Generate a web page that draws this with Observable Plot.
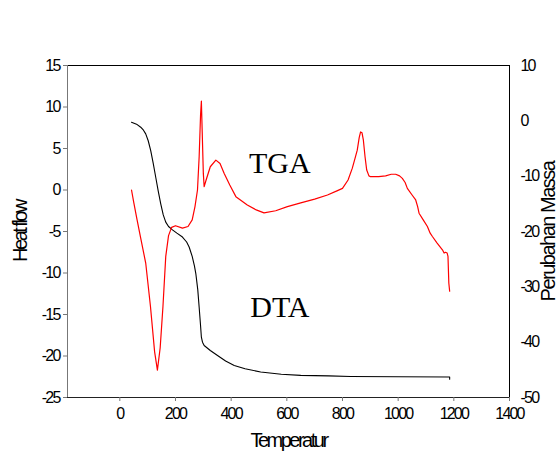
<!DOCTYPE html>
<html>
<head>
<meta charset="utf-8">
<script src="https://cdn.jsdelivr.net/npm/d3@7"></script>
<script src="https://cdn.jsdelivr.net/npm/@observablehq/plot@0.6"></script>
<style>
  html, body { margin: 0; padding: 0; background: #fff; }
  #chart svg { display: block; }
  g[aria-label="y-axis tick label"] text, g[aria-label="x-axis tick label"] text { letter-spacing: -1.8px; }
  .lbl text { letter-spacing: -2.5px; }
  .lbl2 text { letter-spacing: -1.5px; }
</style>
</head>
<body>
<div id="chart"></div>
<script>
// Heat flow (red, left axis)
const redTemp = [42,50,62,75,93,110,125,135,145,155,165,175,186,200,225,245,260,270,279,285,290,293,296,300,303,310,325,345,360,375,395,417,458,490,518,560,602,650,700,746,780,800,820,835,845,853,860,865,870,875,881,887,895,901,930,955,975,991,1005,1015,1025,1033,1050,1063,1070,1075,1090,1105,1115,1123,1140,1159,1165,1170,1176,1179,1182,1185];
const redHeat = [0.0,-1.5,-3.6,-5.8,-8.8,-14,-19.5,-21.7,-19,-14,-8,-5.5,-4.5,-4.3,-4.6,-4.4,-3.6,-2,0,4,9,10.7,7,2,0.4,1.2,2.8,3.6,3.2,2.0,0.6,-0.8,-1.8,-2.4,-2.75,-2.5,-2.0,-1.55,-1.1,-0.6,-0.1,0.2,1.2,2.6,3.8,4.8,6.3,7.0,6.9,6.0,4.0,2.4,1.7,1.6,1.6,1.7,1.9,1.9,1.7,1.4,0.9,0.2,-0.6,-1.2,-2.0,-2.8,-3.6,-4.4,-5.2,-5.6,-6.4,-7.2,-7.6,-7.5,-7.6,-8.0,-11.2,-12.2];
// Mass change (black, right axis)
const blackTemp = [42,60,75,85,93,102,111,120,129,138,147,156,165,175,189,205,225,240,249,260,268,273,280,285,290,293,297,303,325,351,380,411,450,506,580,650,750,829,1000,1185,1185];
const blackMass = [-0.25,-0.6,-1.15,-1.7,-2.35,-3.6,-5.4,-7.7,-10.2,-12.7,-15,-17,-18.3,-19.1,-19.7,-20.3,-21.0,-21.9,-22.8,-24.5,-26.2,-27.6,-30.5,-33.7,-37,-39.1,-40.0,-40.6,-41.5,-42.4,-43.4,-44.2,-44.8,-45.4,-45.8,-46.0,-46.1,-46.2,-46.25,-46.3,-46.7];

const xTicks = [0,200,400,600,800,1000,1200,1400];
const leftTicks = [15,10,5,0,-5,-10,-15,-20,-25];
const rightTicks = [10,0,-10,-20,-30,-40,-50];
const labels = ["TGA","DTA"];
const labelTemp = [575,575];
const labelHeat = [3.2,-14.2];

const xDomain = [-188,1400];
const leftDomain = [-25,15];
const rightDomain = [-50,10];
// map right-axis value to left-axis units
const toLeft = m => leftDomain[0] + (m - rightDomain[0]) * (leftDomain[1]-leftDomain[0])/(rightDomain[1]-rightDomain[0]);

const red = redTemp.map((t,i)=>({t, v: redHeat[i]}));
const black = blackTemp.map((t,i)=>({t, v: toLeft(blackMass[i])}));
const notes = labels.map((s,i)=>({s, t: labelTemp[i], v: labelHeat[i]}));
const rMap = new Map(rightTicks.map(m => [toLeft(m), m]));
const fmt = d => String(d);

const chart = Plot.plot({
  width: 559, height: 452,
  marginLeft: 67, marginRight: 50, marginTop: 65, marginBottom: 55,
  x: {domain: xDomain},
  y: {domain: leftDomain},
  style: {fontFamily: "'Liberation Sans', Arial, sans-serif", background: "#fff", color: "#000"},
  marks: [
    Plot.ruleY([leftDomain[1]], {stroke: "#000", strokeWidth: 1}),
    Plot.ruleX([xDomain[1]], {stroke: "#000", strokeWidth: 1, y1: leftDomain[0] - 0.2, y2: leftDomain[1]}),
    Plot.ruleX([xDomain[0]], {stroke: "#777", strokeWidth: 1}),
    Plot.ruleY([leftDomain[0]], {stroke: "#222", strokeWidth: 1}),
    Plot.axisY({ticks: leftTicks, tickSize: 4, stroke: "#777", tickPadding: 4, fontSize: 16, label: null, tickFormat: fmt}),
    Plot.axisX({ticks: xTicks, tickSize: 4, stroke: "#777", tickPadding: 6, fontSize: 16, label: null, tickFormat: fmt}),
    Plot.axisY(rightTicks.map(toLeft), {anchor: "right", tickSize: 0, tickPadding: 11, fontSize: 16, label: null,
      tickFormat: v => String(rMap.get(v) ?? "")}),
    Plot.line(black, {x: "t", y: "v", stroke: "#000", strokeWidth: 1.1}),
    Plot.line(red, {x: "t", y: "v", stroke: "#ff0000", strokeWidth: 1.2}),
    Plot.text(notes, {x: "t", y: "v", text: "s", fontFamily: "'Liberation Serif', 'Times New Roman', serif", fontSize: 30, textAnchor: "middle", lineAnchor: "middle"}),
    Plot.text(["Heat flow"], {frameAnchor: "left", dx: -47, rotate: -90, fontSize: 20, textAnchor: "middle", lineAnchor: "middle", className: "lbl"}),
    Plot.text(["Perubahan Massa"], {frameAnchor: "right", dx: 39, rotate: -90, fontSize: 20, textAnchor: "middle", lineAnchor: "middle", className: "lbl2"}),
    Plot.text(["Temperatur"], {frameAnchor: "bottom", dy: 43, fontSize: 20, textAnchor: "middle", lineAnchor: "middle", className: "lbl"})
  ]
});
document.getElementById("chart").appendChild(chart);
</script>
</body>
</html>
